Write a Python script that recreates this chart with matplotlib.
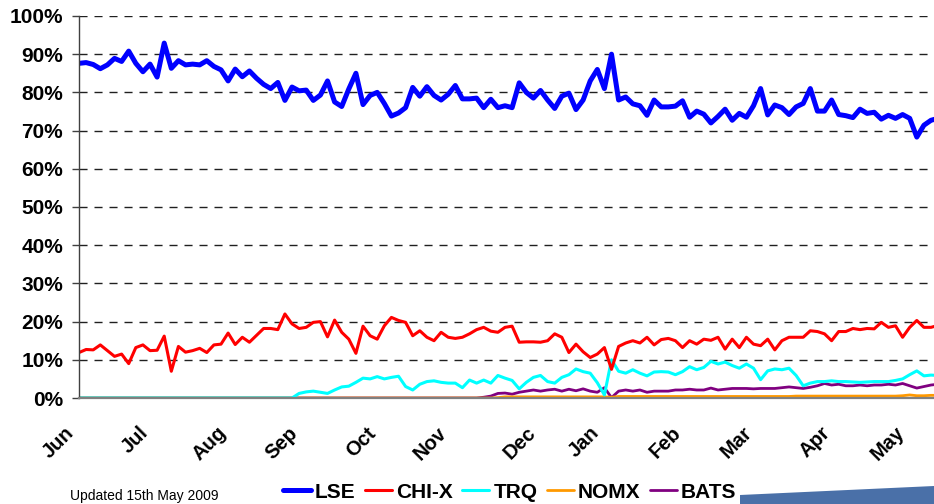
import matplotlib
matplotlib.use("Agg")
import matplotlib.pyplot as plt
from matplotlib.patches import Polygon
from matplotlib.ticker import FuncFormatter
from matplotlib.transforms import ScaledTranslation

# trading day index (every second trading day, 2 Jun 2008 .. 15 May 2009)
days = list(range(0, 243, 2))

# month labels and the trading day they sit on
months = ["Jun", "Jul", "Aug", "Sep", "Oct", "Nov", "Dec", "Jan", "Feb", "Mar", "Apr", "May"]
month_days = [0, 21, 43, 63, 85, 105, 130, 148, 171, 191, 213, 234]

# market share in %
lse = [87.6, 87.8, 87.3, 86.2, 87.2, 88.9, 88.1, 90.8, 87.6, 85.4,
       87.4, 84.0, 92.9, 86.3, 88.3, 87.2, 87.4, 87.2, 88.3, 86.8,
       85.9, 83.0, 86.1, 84.1, 85.6, 83.7, 82.1, 81.0, 82.6, 77.9,
       81.4, 80.4, 80.6, 77.9, 79.3, 83.0, 77.5, 76.3, 80.9, 85.0,
       76.8, 79.2, 80.0, 77.1, 73.8, 74.6, 76.0, 81.3, 79.0, 81.5,
       79.2, 78.0, 79.5, 81.8, 78.3, 78.3, 78.5, 76.0, 78.2, 76.0,
       76.5, 76.0, 82.5, 80.0, 78.5, 80.5, 78.0, 75.8, 79.0, 79.8,
       75.5, 78.0, 83.0, 86.0, 81.0, 90.0, 78.0, 78.8, 77.0, 76.5,
       74.0, 78.0, 76.2, 76.2, 76.4, 77.8, 73.5, 75.1, 74.3, 72.0,
       73.7, 75.6, 72.7, 74.5, 73.5, 76.5, 81.0, 74.1, 76.7, 76.0,
       74.2, 76.2, 77.1, 81.0, 75.1, 75.1, 78.0, 74.2, 73.9, 73.4,
       75.6, 74.5, 74.8, 73.0, 74.0, 73.2, 74.2, 73.2, 68.3, 71.4,
       72.7, 73.2]

chix = [11.9, 12.7, 12.6, 13.9, 12.4, 10.9, 11.5, 9.0, 13.2, 13.9,
        12.4, 12.5, 16.2, 7.0, 13.5, 12.0, 12.4, 13.0, 11.9, 13.9,
        14.1, 17.0, 14.0, 15.9, 14.6, 16.4, 18.2, 18.2, 17.9, 22.0,
        19.4, 18.2, 18.5, 19.8, 20.0, 16.0, 20.4, 17.2, 15.4, 11.7,
        18.8, 16.3, 15.4, 18.9, 21.1, 20.3, 19.8, 16.3, 17.6, 15.9,
        15.0, 17.2, 15.9, 15.6, 15.9, 16.8, 17.9, 18.5, 17.5, 17.2,
        18.5, 18.8, 14.6, 14.7, 14.7, 14.6, 15.0, 16.8, 15.9, 11.9,
        14.1, 12.1, 10.6, 11.5, 13.2, 7.5, 13.5, 14.4, 15.0, 14.4,
        15.9, 13.9, 15.3, 15.6, 15.0, 13.2, 15.0, 14.1, 15.4, 15.1,
        15.9, 12.8, 15.4, 13.2, 15.9, 14.1, 13.7, 15.4, 12.6, 15.0,
        15.9, 15.9, 15.9, 17.6, 17.4, 16.8, 15.0, 17.4, 17.4, 18.2,
        17.9, 18.2, 18.1, 19.8, 18.5, 18.9, 15.9, 18.5, 20.3, 18.5,
        18.5, 19.0]

trq = [0, 0, 0, 0, 0, 0, 0, 0, 0, 0,
       0, 0, 0, 0, 0, 0, 0, 0, 0, 0,
       0, 0, 0, 0, 0, 0, 0, 0, 0, 0,
       0, 1.2, 1.6, 1.8, 1.5, 1.2, 2.1, 2.9, 3.1, 4.1,
       5.2, 5.0, 5.6, 5.0, 5.4, 5.7, 3.0, 2.1, 3.6, 4.3,
       4.5, 4.1, 3.9, 3.9, 2.7, 4.7, 3.9, 4.7, 3.9, 5.9,
       5.2, 4.6, 2.4, 4.1, 5.4, 5.9, 4.3, 3.9, 5.4, 6.1,
       7.6, 6.9, 6.5, 4.0, 0.8, 10.0, 7.0, 6.5, 7.4, 6.5,
       5.8, 6.8, 6.9, 6.8, 6.1, 6.9, 8.2, 7.4, 8.0, 9.6,
       8.9, 9.4, 8.5, 7.8, 8.9, 7.8, 4.8, 7.1, 7.6, 7.4,
       7.8, 5.9, 3.2, 3.9, 4.3, 4.3, 4.5, 4.3, 4.3, 4.2,
       4.1, 4.2, 4.3, 4.3, 4.3, 4.6, 5.0, 6.1, 7.1, 5.8,
       6.0, 5.9]

nomx = [0, 0, 0, 0, 0, 0, 0, 0, 0, 0,
        0, 0, 0, 0, 0, 0, 0, 0, 0, 0,
        0, 0, 0, 0, 0, 0, 0, 0, 0, 0,
        0, 0, 0, 0, 0, 0, 0, 0, 0, 0,
        0, 0, 0, 0, 0, 0, 0, 0, 0, 0,
        0, 0, 0, 0, 0, 0, 0, 0, 0, 0.1,
        0.3, 0.3, 0.3, 0.3, 0.3, 0.3, 0.3, 0.3, 0.3, 0.3,
        0.3, 0.3, 0.3, 0.3, 0.3, 0.2, 0.4, 0.4, 0.4, 0.4,
        0.4, 0.4, 0.4, 0.4, 0.4, 0.4, 0.4, 0.4, 0.4, 0.4,
        0.4, 0.4, 0.4, 0.4, 0.4, 0.4, 0.4, 0.4, 0.4, 0.4,
        0.4, 0.5, 0.5, 0.5, 0.5, 0.5, 0.5, 0.5, 0.5, 0.5,
        0.5, 0.5, 0.5, 0.5, 0.5, 0.5, 0.6, 0.8, 0.6, 0.6,
        0.7, 0.7]

bats = [0, 0, 0, 0, 0, 0, 0, 0, 0, 0,
        0, 0, 0, 0, 0, 0, 0, 0, 0, 0,
        0, 0, 0, 0, 0, 0, 0, 0, 0, 0,
        0, 0, 0, 0, 0, 0, 0, 0, 0, 0,
        0, 0, 0, 0, 0, 0, 0, 0, 0, 0,
        0, 0, 0, 0, 0, 0, 0, 0.2, 0.5, 1.2,
        1.3, 1.0, 1.5, 1.8, 2.1, 1.8, 2.1, 2.3, 1.8, 2.3,
        1.9, 2.4, 1.8, 1.5, 2.7, 0.1, 1.8, 2.1, 1.8, 2.1,
        1.5, 1.8, 1.8, 1.8, 2.1, 2.1, 2.3, 2.1, 2.1, 2.6,
        2.1, 2.3, 2.5, 2.5, 2.5, 2.4, 2.5, 2.5, 2.5, 2.7,
        2.9, 2.7, 2.5, 2.8, 3.2, 3.8, 3.4, 3.6, 3.2, 3.2,
        3.4, 3.2, 3.4, 3.4, 3.6, 3.4, 3.8, 3.2, 2.6, 3.0,
        3.4, 3.6]

series = [("LSE", lse, "#0000FF", 3.6),
          ("CHI-X", chix, "#FF0000", 2.2),
          ("TRQ", trq, "#00FFFF", 2.2),
          ("NOMX", nomx, "#FF9900", 2.0),
          ("BATS", bats, "#800080", 2.0)]

plt.rcParams["font.family"] = ["Liberation Sans", "DejaVu Sans"]

fig = plt.figure(figsize=(9.34, 5.04), dpi=100)
ax = fig.add_axes([0.0846, 0.2103, 0.9312, 0.758])

# draw the small ones first so LSE / CHI-X sit on top
for name, vals, col, lw in series[::-1]:
    ax.plot(days, vals, color=col, lw=lw, label=name,
            solid_joinstyle="round", solid_capstyle="round")

ax.set_xlim(0, 245)
ax.set_ylim(0, 100)
ax.set_yticks(range(0, 101, 10))
ax.yaxis.set_major_formatter(FuncFormatter(lambda v, p: f"{v:.0f}%"))
ax.set_xticks(month_days)
ax.set_xticklabels(months)

for y in range(10, 101, 10):
    ax.axhline(y, color="#202020", lw=1.0, dashes=(5.8, 5.0), zorder=0)

for s in ["top", "right"]:
    ax.spines[s].set_visible(False)
ax.spines["left"].set_color("#404040")
ax.spines["left"].set_linewidth(1.0)
ax.spines["bottom"].set_color("#808080")
ax.spines["bottom"].set_linewidth(1.6)

ax.tick_params(axis="y", length=5, width=1, color="#404040", pad=6.5, labelsize=15)
ax.tick_params(axis="x", length=0, pad=23, labelsize=14.5)
for t in ax.get_yticklabels():
    t.set_fontweight("bold")
shift = ScaledTranslation(-8 / 100, 0, fig.dpi_scale_trans)
for t in ax.get_xticklabels():
    t.set_fontweight("bold")
    t.set_rotation(45)
    t.set_ha("right")
    t.set_va("center")
    t.set_rotation_mode("anchor")
    t.set_transform(t.get_transform() + shift)

handles, labels = ax.get_legend_handles_labels()
fig.legend(handles[::-1], labels[::-1], loc="center", ncol=5, frameon=False,
           bbox_to_anchor=(510 / 934, 1 - 492 / 504),
           prop={"weight": "bold", "size": 15},
           handlelength=1.3, handletextpad=0.2, columnspacing=0.45,
           borderpad=0, borderaxespad=0)

fig.text(70 / 934, 4 / 504, "Updated 15th May 2009", fontsize=10, va="baseline")

fig.patches.append(Polygon([(740 / 934, 0), (740 / 934, 9 / 504), (1, 18 / 504), (1, 0)],
                           closed=True, transform=fig.transFigure,
                           facecolor="#4A70A8", edgecolor="none"))

fig.savefig("out.png", dpi=100)
